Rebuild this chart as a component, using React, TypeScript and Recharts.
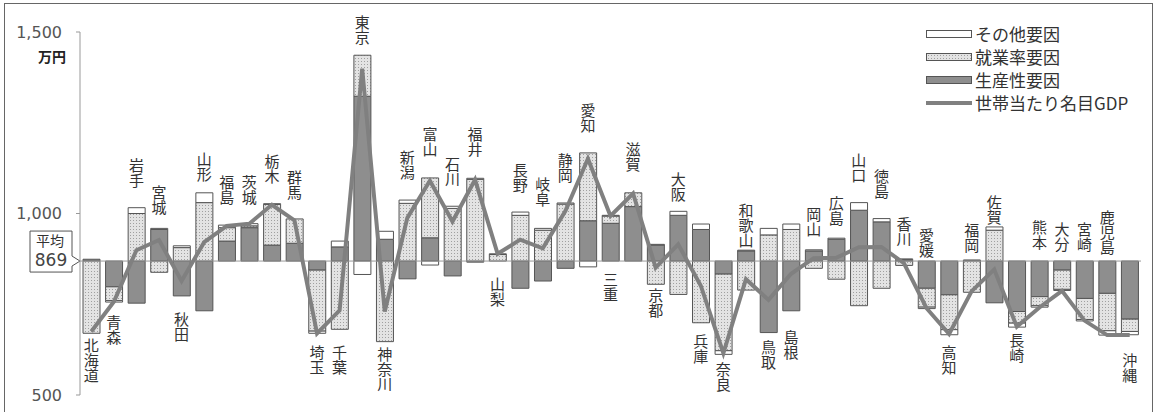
import React from 'react';
import { ComposedChart, Bar, Line, XAxis, YAxis, ReferenceLine } from 'recharts';

// 都道府県別 世帯当たり名目GDP（万円）と全国平均からの差の要因分解
const NAMES = [
  '北海道', '青森', '岩手', '宮城', '秋田', '山形', '福島', '茨城', '栃木', '群馬',
  '埼玉', '千葉', '東京', '神奈川', '新潟', '富山', '石川', '福井', '山梨', '長野',
  '岐阜', '静岡', '愛知', '三重', '滋賀', '京都', '大阪', '兵庫', '奈良', '和歌山',
  '鳥取', '島根', '岡山', '広島', '山口', '徳島', '香川', '愛媛', '高知', '福岡',
  '佐賀', '長崎', '熊本', '大分', '宮崎', '鹿児島', '沖縄',
];

// 生産性要因
const PRODUCTIVITY = [
  5, -71, -116, 87, -96, -137, 55, 92, 44, 49,
  -25, 39, 454, 60, -49, 64, -41, -3, 0, -75,
  -55, -20, 111, 104, 150, 44, 126, 87, -36, 28,
  -197, -137, 28, 60, 140, 108, 4, -75, -93, 3,
  -115, -139, -98, -25, -103, -89, -160,
];

// 就業率要因
const EMPLOYMENT = [
  -199, -38, 131, -31, 37, 161, 37, 5, 112, 67,
  -168, -188, 113, -222, 159, 165, 145, 225, 18, 126,
  85, 157, 187, 20, 38, -64, -92, -170, -211, -80,
  72, 87, -20, -50, -123, -75, -12, -52, -96, -86,
  85, -32, -25, -53, -58, -103, -34,
];

// その他要因
const OTHER = [
  0, -4, 16, 3, 5, 27, 7, 6, 2, 0,
  -6, 16, -37, 22, 9, -11, 6, 3, 2, 9,
  5, 3, -16, 2, 0, 2, 11, 15, -10, 2,
  18, 15, 3, 3, 21, 9, 2, -4, -14, 0,
  9, -11, -4, -3, -4, -12, -9,
];

// 世帯当たり名目GDP
const GDP = [
  675, 757, 899, 927, 814, 921, 966, 972, 1024, 981,
  670, 733, 1399, 730, 988, 1090, 978, 1093, 889, 928,
  904, 1007, 1151, 993, 1055, 851, 915, 801, 615, 819,
  762, 834, 877, 878, 907, 908, 863, 739, 668, 786,
  846, 688, 741, 787, 705, 665, 665,
];

const AVERAGE = 869;
const Y_TICKS = [500, 1000, 1500];

// 県名ラベルの配置（下側に置くもの）と棒からの間隔
const LABEL_BELOW = new Set([
  '北海道', '青森', '秋田', '埼玉', '千葉', '神奈川', '山梨', '三重', '京都', '兵庫',
  '奈良', '鳥取', '島根', '高知', '長崎', '沖縄',
]);
const LABEL_GAP = [
  5, 13, 20, 13, 16, 11, 20, 19, 20, 19,
  12, 16, 10, 5, 20, 21, 19, 21, 16, 19,
  21, 20, 20, 11, 21, 4, 9, 11, 8, 2,
  7, 19, 13, 12, 20, 20, 12, 3, 10, 7,
  2, 6, 11, 9, 9, 6, 18,
];

const data = NAMES.map((name, i) => {
  const parts = [PRODUCTIVITY[i], EMPLOYMENT[i], OTHER[i]];
  const up = parts.filter((v) => v > 0).reduce((a, b) => a + b, 0);
  const down = parts.filter((v) => v < 0).reduce((a, b) => a + b, 0);
  return {
    name,
    prod: PRODUCTIVITY[i],
    emp: EMPLOYMENT[i],
    other: OTHER[i],
    gdp: GDP[i] - AVERAGE,
    anchor: LABEL_BELOW.has(name) ? down : up,
  };
});

const JP = '"Noto Sans CJK JP", "Noto Sans", sans-serif';
const NUM = '"DejaVu Sans", sans-serif';
const DARK = '#8e8e8e';
const EDGE = '#555';
const LINE = '#808080';

// 県名は一文字ずつ縦に積む
const NameLabel = (props: any) => {
  const { cx, cy, index } = props;
  if (cx == null || cy == null) return null;
  const name = NAMES[index];
  const chars = Array.from(name);
  const lh = 15;
  const gap = LABEL_GAP[index];
  const first = LABEL_BELOW.has(name)
    ? cy + gap + 13
    : cy - gap - 2 - (chars.length - 1) * lh;
  return (
    <text key={`n-${index}`} textAnchor="middle" fontSize={15} fill="#333" fontFamily={JP}>
      {chars.map((c, k) => (
        <tspan key={k} x={cx} y={first + k * lh}>
          {c}
        </tspan>
      ))}
    </text>
  );
};

const AvgCallout = (props: any) => {
  const { x, y } = props.viewBox;
  const d = `M${x - 50},${y - 30} H${x - 8} V${y - 5} L${x},${y} L${x - 8},${y + 5} V${y + 11} H${x - 50} Z`;
  return (
    <g>
      <path d={d} fill="#fff" stroke={EDGE} />
      <text x={x - 30} y={y - 15} textAnchor="middle" fontSize={14} fill="#333" fontFamily={JP}>
        平均
      </text>
      <text x={x - 29} y={y + 5} textAnchor="middle" fontSize={17} fill="#444" fontFamily={NUM}>
        {AVERAGE}
      </text>
    </g>
  );
};

const LEGEND = [
  { label: 'その他要因', kind: 'other' },
  { label: '就業率要因', kind: 'emp' },
  { label: '生産性要因', kind: 'prod' },
  { label: '世帯当たり名目GDP', kind: 'line' },
];

export default function App() {
  return (
    <div style={{ position: 'absolute', left: 0, top: 0, width: 1157, height: 412, background: '#fff', overflow: 'hidden' }}>
      <ComposedChart
        width={1157}
        height={412}
        data={data}
        stackOffset="sign"
        margin={{ top: 32, right: 16, bottom: 17, left: 0 }}
      >
        <defs>
          <pattern id="dots" width={3} height={3} patternUnits="userSpaceOnUse">
            <rect width={3} height={3} fill="#e3e3e3" />
            <rect x={1} y={1} width={1} height={1} fill="#a0a0a0" />
          </pattern>
        </defs>
        <XAxis dataKey="name" hide />
        <YAxis
          type="number"
          domain={[500 - AVERAGE, 1500 - AVERAGE]}
          ticks={Y_TICKS.map((t) => t - AVERAGE)}
          tickFormatter={(v: number) => (v + AVERAGE).toLocaleString('en-US')}
          interval={0}
          width={80}
          tickSize={4}
          tickMargin={14}
          axisLine={{ stroke: '#999' }}
          tickLine={{ stroke: '#999' }}
          tick={{ fontSize: 16, fill: '#555', fontFamily: NUM }}
        />
        <ReferenceLine y={0} stroke="#999" label={(p: any) => <AvgCallout {...p} />} />
        <Bar dataKey="prod" stackId="a" barSize={17} fill={DARK} stroke={EDGE} strokeWidth={1} isAnimationActive={false} />
        <Bar dataKey="emp" stackId="a" barSize={17} fill="url(#dots)" stroke={EDGE} strokeWidth={1} isAnimationActive={false} />
        <Bar dataKey="other" stackId="a" barSize={17} fill="#fff" stroke={EDGE} strokeWidth={1} isAnimationActive={false} />
        <Line
          dataKey="gdp"
          type="linear"
          stroke={LINE}
          strokeWidth={4}
          dot={false}
          activeDot={false}
          isAnimationActive={false}
        />
        <Line
          dataKey="anchor"
          stroke="none"
          dot={(p: any) => <NameLabel key={`d-${p.index}`} {...p} />}
          activeDot={false}
          isAnimationActive={false}
        />
      </ComposedChart>

      <svg width={1157} height={412} style={{ position: 'absolute', left: 0, top: 0, pointerEvents: 'none' }}>
        <defs>
          <pattern id="dots2" width={3} height={3} patternUnits="userSpaceOnUse">
            <rect width={3} height={3} fill="#e3e3e3" />
            <rect x={1} y={1} width={1} height={1} fill="#a0a0a0" />
          </pattern>
        </defs>
        <rect x={4.5} y={3.5} width={1148} height={430} fill="none" stroke="#666" />
        <text x={52} y={62} textAnchor="middle" fontSize={14} fontWeight="bold" fill="#222" fontFamily={JP}>
          万円
        </text>
        {LEGEND.map((item, i) => {
          const cy = 34 + i * 23;
          return (
            <g key={item.label}>
              {item.kind === 'line' ? (
                <line x1={926} x2={972} y1={cy} y2={cy} stroke={LINE} strokeWidth={4} />
              ) : (
                <rect
                  x={926.5}
                  y={cy - 3.5}
                  width={45}
                  height={7}
                  fill={item.kind === 'other' ? '#fff' : item.kind === 'emp' ? 'url(#dots2)' : DARK}
                  stroke={EDGE}
                />
              )}
              <text x={975} y={cy + 6.5} fontSize={17} fill="#333" fontFamily={JP}>
                {item.label}
              </text>
            </g>
          );
        })}
      </svg>
    </div>
  );
}
